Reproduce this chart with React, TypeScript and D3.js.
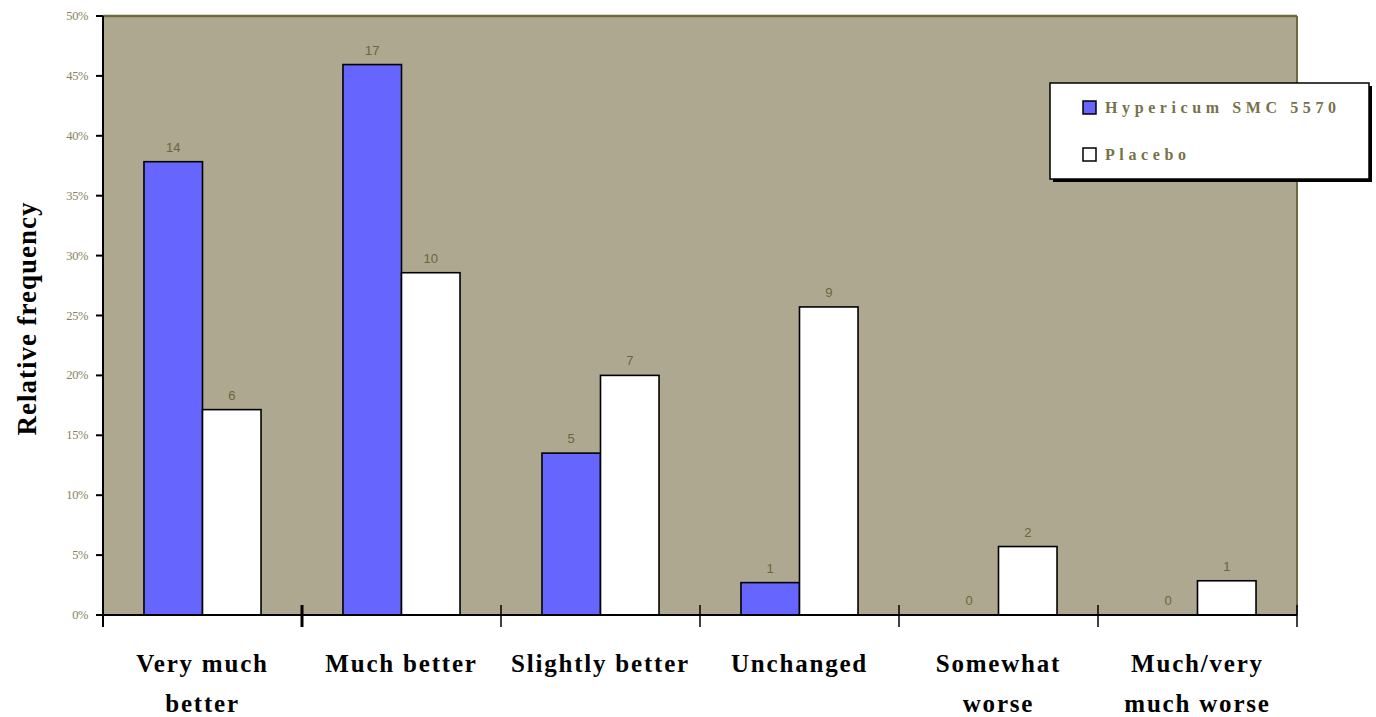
import React from "react";
import * as d3 from "d3";

// Patient-rated global change, counts per response category
const categories: string[][] = [
  ["Very much", "better"],
  ["Much better"],
  ["Slightly better"],
  ["Unchanged"],
  ["Somewhat", "worse"],
  ["Much/very", "much worse"],
];
const seriesNames = ["Hypericum SMC 5570", "Placebo"];
const hypericumCounts = [14, 17, 5, 1, 0, 0];
const placeboCounts = [6, 10, 7, 9, 2, 1];
const yTicks = [0, 0.05, 0.1, 0.15, 0.2, 0.25, 0.3, 0.35, 0.4, 0.45, 0.5];

const W = 1376;
const H = 717;
const plot = { left: 103, right: 1297, top: 16, bottom: 615 };
const bg = "#ada88f";
const olive = "#6e6a3f";
const colors = ["#6666ff", "#ffffff"];

export default function App() {
  const series = [hypericumCounts, placeboCounts];
  const totals = series.map((s) => d3.sum(s));

  const x0 = d3
    .scaleBand<number>()
    .domain(d3.range(categories.length))
    .range([plot.left, plot.right])
    .paddingInner(0)
    .paddingOuter(0);
  const x1 = d3
    .scaleBand<number>()
    .domain([0, 1])
    .range([0, x0.bandwidth()])
    .paddingOuter(0.7)
    .paddingInner(0);
  const y = d3.scaleLinear().domain([0, 0.5]).range([plot.bottom, plot.top]);
  const fmt = d3.format(".0%");

  const boundaries = d3.range(categories.length + 1).map((i) =>
    i < categories.length ? (x0(i) as number) : plot.right
  );

  return (
    <svg
      width={W}
      height={H}
      style={{ position: "absolute", left: 0, top: 0, background: "#fff" }}
    >
      {/* plot area */}
      <rect
        x={plot.left}
        y={plot.top}
        width={plot.right - plot.left}
        height={plot.bottom - plot.top}
        fill={bg}
      />
      <line x1={plot.left} x2={plot.right} y1={plot.top} y2={plot.top} stroke={olive} strokeWidth={2.5} />
      <line x1={plot.right} x2={plot.right} y1={plot.top} y2={plot.bottom} stroke={olive} strokeWidth={2} />

      {/* bars */}
      {series.map((s, si) =>
        s.map((c, ci) => {
          const v = c / totals[si];
          const bx = (x0(ci) as number) + (x1(si) as number);
          const bw = x1.bandwidth();
          const by = y(v);
          return (
            <g key={`${si}-${ci}`}>
              {c > 0 && (
                <rect
                  x={bx}
                  y={by}
                  width={bw}
                  height={plot.bottom - by}
                  fill={colors[si]}
                  stroke="#000"
                  strokeWidth={1.6}
                />
              )}
              <text
                x={bx + bw / 2}
                y={by - 10}
                textAnchor="middle"
                fontFamily="Liberation Sans, Arial, sans-serif"
                fontSize={13}
                fill="#6a6640"
              >
                {c}
              </text>
            </g>
          );
        })
      )}

      {/* y axis */}
      <line x1={plot.left} x2={plot.left} y1={plot.top} y2={plot.bottom + 12} stroke="#000" strokeWidth={2} />
      {yTicks.map((t) => (
        <g key={t}>
          <line x1={plot.left - 7} x2={plot.left} y1={y(t)} y2={y(t)} stroke="#000" strokeWidth={2} />
          <text
            x={plot.left - 15}
            y={y(t) + 4}
            textAnchor="end"
            fontFamily="Liberation Serif, Times New Roman, serif"
            fontSize={12.5}
            letterSpacing={-0.4}
            fill="#87835c"
          >
            {fmt(t)}
          </text>
        </g>
      ))}
      <text
        transform={`translate(36, ${(plot.top + plot.bottom) / 2 + 3}) rotate(-90)`}
        textAnchor="middle"
        fontFamily="Liberation Serif, Times New Roman, serif"
        fontWeight="bold"
        fontSize={27}
        letterSpacing={1}
        fill="#000"
      >
        Relative frequency
      </text>

      {/* x axis */}
      <line x1={plot.left} x2={plot.right} y1={plot.bottom} y2={plot.bottom} stroke="#000" strokeWidth={2} />
      {boundaries.map((bx, i) => (
        <line
          key={i}
          x1={bx}
          x2={bx}
          y1={plot.bottom - 10}
          y2={plot.bottom + 12}
          stroke="#000"
          strokeWidth={i === 1 ? 3 : 1.5}
        />
      ))}
      {categories.map((lines, ci) => (
        <text
          key={ci}
          textAnchor="middle"
          fontFamily="Liberation Serif, Times New Roman, serif"
          fontWeight="bold"
          fontSize={25}
          letterSpacing={1.8}
          fill="#000"
        >
          {lines.map((ln, li) => (
            <tspan key={li} x={(x0(ci) as number) + x0.bandwidth() / 2} y={672 + li * 40}>
              {ln}
            </tspan>
          ))}
        </text>
      ))}

      {/* legend */}
      <rect x={1053} y={86} width={319} height={96} fill="#000" />
      <rect x={1050} y={83} width={319} height={96} fill="#fff" stroke="#000" strokeWidth={1.5} />
      {seriesNames.map((name, i) => (
        <g key={name}>
          <rect
            x={1083}
            y={101 + i * 47}
            width={13}
            height={13}
            fill={colors[i]}
            stroke="#000"
            strokeWidth={1.5}
          />
          <text
            x={1105}
            y={113 + i * 47}
            fontFamily="Liberation Serif, Times New Roman, serif"
            fontSize={16}
            fontWeight="bold"
            letterSpacing={4.6}
            fill="#77714a"
          >
            {name}
          </text>
        </g>
      ))}
    </svg>
  );
}
